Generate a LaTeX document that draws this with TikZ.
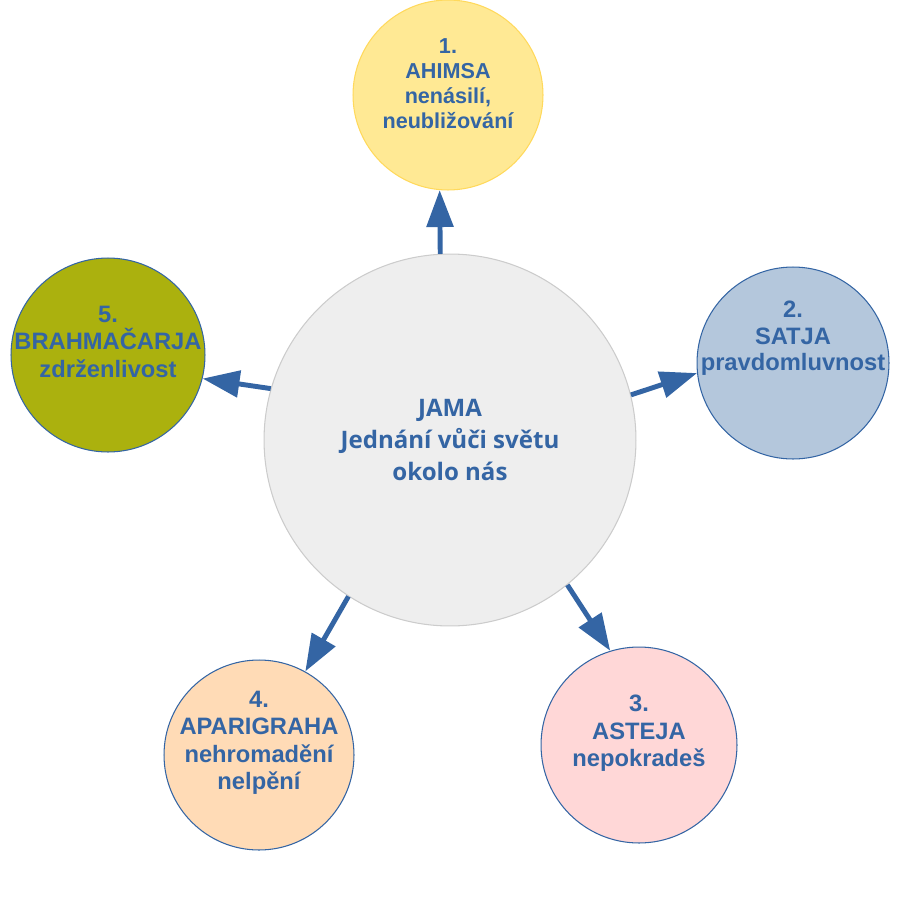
\documentclass[tikz,border=0pt]{standalone}
\usepackage{fontspec}
\setmainfont{Liberation Sans}
\newfontfamily\jamafont{Open Sans}
\usetikzlibrary{arrows.meta}

\definecolor{yamablue}{HTML}{3465A4}
\definecolor{jamafill}{HTML}{EEEEEE}
\definecolor{jamaline}{HTML}{CCCCCC}
\definecolor{goldfill}{HTML}{FFE994}
\definecolor{goldline}{HTML}{FFD95C}
\definecolor{bluefill}{HTML}{B4C7DC}
\definecolor{pinkfill}{HTML}{FFD7D7}
\definecolor{orangefill}{HTML}{FFDBB6}
\definecolor{olivefill}{HTML}{ABB10E}

\begin{document}
\begin{tikzpicture}[x=0.02cm, y=-0.02cm,
  petal/.style={circle, draw=yamablue, line width=0.6pt, inner sep=0pt, minimum size=#1},
  petaltext/.style={anchor=north, inner sep=0pt, align=center, text=yamablue, font=\bfseries\fontsize{13.5}{15.5}\selectfont},
  yamaarrow/.style={draw=yamablue, line width=2.8pt, -{Triangle[length=21pt, width=15pt]}}]
\useasboundingbox (0,0) rectangle (918,919);
\node[circle, draw=jamaline, line width=0.6pt, fill=jamafill, minimum size=7.44cm, inner sep=0pt, align=center, text=yamablue, font=\jamafont\bfseries\fontsize{13.7}{18.1}\selectfont] (jama) at (450,440) {JAMA\\Jednání vůči světu\\okolo nás};
\node[petal=3.8cm, draw=goldline, fill=goldfill] (ahimsa) at (448,95) {};
\node[petal=3.84cm, fill=bluefill] (satja) at (793,363) {};
\node[petal=3.92cm, fill=pinkfill] (asteja) at (639,745) {};
\node[petal=3.8cm, fill=orangefill] (aparigraha) at (259,755) {};
\node[petal=3.88cm, fill=olivefill] (brahmacarja) at (108,355) {};
\node[petaltext, font=\bfseries\fontsize{12.3}{14.2}\selectfont] (ahimsa-t) at (448,38) {1.\\AHIMSA\\nenásilí,\\neubližování};
\node[petaltext, font=\bfseries\fontsize{13.5}{15}\selectfont] (satja-t) at (793,301) {2.\\SATJA\\pravdomluvnost};
\node[petaltext] (asteja-t) at (639,695) {3.\\ASTEJA\\nepokradeš};
\node[petaltext] (aparigraha-t) at (259,691) {4.\\APARIGRAHA\\nehromadění\\nelpění};
\node[petaltext] (brahmacarja-t) at (108,306) {5.\\BRAHMAČARJA\\zdrženlivost};
\draw[yamaarrow] (jama.93) -- (ahimsa.265);
\draw[yamaarrow] (jama.14) -- (satja.186);
\draw[yamaarrow] (jama.309) -- (asteja.107);
\draw[yamaarrow] (jama.237) -- (aparigraha.61);
\draw[yamaarrow] (jama.164) -- (brahmacarja.346);
\end{tikzpicture}
\end{document}
